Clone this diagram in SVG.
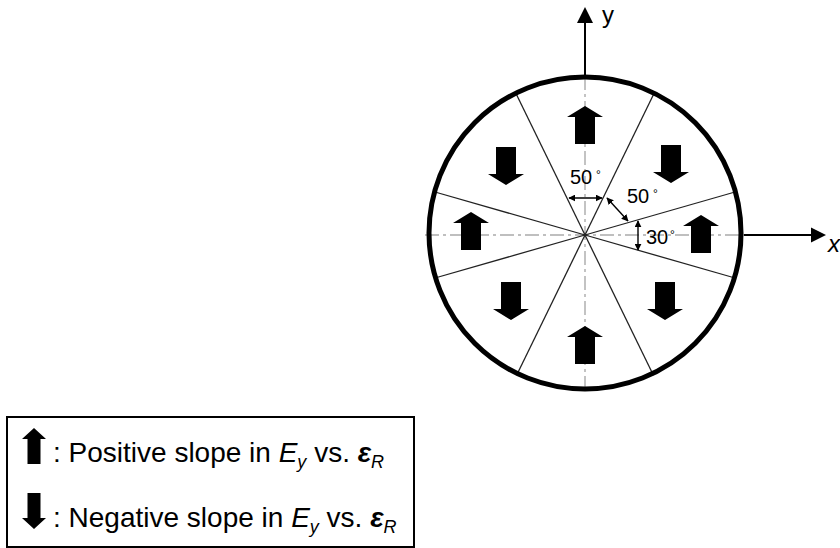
<svg xmlns="http://www.w3.org/2000/svg" xmlns:xlink="http://www.w3.org/1999/xlink" width="840" height="548" viewBox="0 0 840 548">
<style>
.t{font-family:"Liberation Sans",Arial,sans-serif;fill:#000}
.sec{stroke:#222;stroke-width:1.3;fill:none}
.ax{stroke:#aaa;stroke-width:1.4;stroke-dasharray:14 4 3 4;fill:none}
.dim{stroke:#000;stroke-width:1.4;fill:none;marker-start:url(#ah);marker-end:url(#ah)}
.blk{fill:#000}
</style>
<defs>
<marker id="ah" viewBox="0 0 10 10" refX="9" refY="5" markerWidth="7" markerHeight="7" markerUnits="userSpaceOnUse" orient="auto-start-reverse">
<path d="M0,0 L10,5 L0,10 Z" fill="#000"/>
</marker>
<path id="up" d="M0,-19 L18,-8 L10,-8 L10,19 L-10,19 L-10,-8 L-18,-8 Z"/>
<path id="lup" d="M0,-18 L12,-7 L6.5,-7 L6.5,18 L-6.5,18 L-6.5,-7 L-12,-7 Z"/>
</defs>
<g id="axes">
<line class="ax" x1="425" y1="235" x2="745" y2="235"/>
<line class="ax" x1="585" y1="76" x2="585" y2="392"/>
</g>
<g id="sectors">
<line class="sec" x1="585" y1="235" x2="735.0" y2="192.0"/>
<line class="sec" x1="585" y1="235" x2="653.4" y2="94.8"/>
<line class="sec" x1="585" y1="235" x2="516.6" y2="94.8"/>
<line class="sec" x1="585" y1="235" x2="435.0" y2="192.0"/>
<line class="sec" x1="585" y1="235" x2="435.0" y2="278.0"/>
<line class="sec" x1="585" y1="235" x2="516.6" y2="375.2"/>
<line class="sec" x1="585" y1="235" x2="653.4" y2="375.2"/>
<line class="sec" x1="585" y1="235" x2="735.0" y2="278.0"/>
</g>
<g id="circle">
<circle cx="585" cy="233" r="156" fill="none" stroke="#000" stroke-width="5"/>
</g>
<g id="y-axis">
<line x1="585" y1="76" x2="585" y2="22" stroke="#000" stroke-width="2"/>
<polygon points="585,7 577,23 593,23" fill="#000"/>
<text class="t" x="602" y="23" font-size="24">y</text>
</g>
<g id="x-axis">
<line x1="744" y1="235" x2="812" y2="235" stroke="#000" stroke-width="2"/>
<polygon points="826,235 811,227.5 811,242.5" fill="#000"/>
<text class="t" x="828" y="252" font-size="24" font-style="italic">x</text>
</g>
<g id="arrows" class="blk">
<use xlink:href="#up" href="#up" transform="translate(585,125)"/>
<use xlink:href="#up" href="#up" transform="translate(506,166) rotate(180)"/>
<use xlink:href="#up" href="#up" transform="translate(671,164) rotate(180)"/>
<use xlink:href="#up" href="#up" transform="translate(471,231)"/>
<use xlink:href="#up" href="#up" transform="translate(701,234)"/>
<use xlink:href="#up" href="#up" transform="translate(511,301) rotate(180)"/>
<use xlink:href="#up" href="#up" transform="translate(665,301) rotate(180)"/>
<use xlink:href="#up" href="#up" transform="translate(585,345)"/>
</g>
<g id="dimensions">
<line class="dim" x1="569" y1="198" x2="602" y2="198"/>
<line class="dim" x1="607" y1="198" x2="628" y2="221"/>
<line class="dim" x1="638" y1="221" x2="638" y2="250"/>
<text class="t" x="570" y="184" font-size="20">50</text>
<text class="t" x="596" y="179" font-size="12">°</text>
<text class="t" x="627" y="203" font-size="20">50</text>
<text class="t" x="653" y="198" font-size="12">°</text>
<text class="t" x="646" y="244" font-size="20">30</text>
<text class="t" x="670" y="239" font-size="12">°</text>
</g>
<g id="legend">
<rect x="7" y="417" width="407" height="130" fill="#fff" stroke="#000" stroke-width="2"/>
<use xlink:href="#lup" href="#lup" transform="translate(34,446)"/>
<use xlink:href="#lup" href="#lup" transform="translate(34,511) rotate(180)"/>
<text class="t" x="53" y="462" font-size="28">: Positive slope in <tspan font-style="italic">E</tspan><tspan font-size="18" font-style="italic" dy="6">y</tspan><tspan dy="-6"> vs. </tspan><tspan font-style="italic" font-weight="bold">ε</tspan><tspan font-size="18" font-style="italic" dy="6">R</tspan></text>
<text class="t" x="53" y="527" font-size="28">: Negative slope in <tspan font-style="italic">E</tspan><tspan font-size="18" font-style="italic" dy="6">y</tspan><tspan dy="-6"> vs. </tspan><tspan font-style="italic" font-weight="bold">ε</tspan><tspan font-size="18" font-style="italic" dy="6">R</tspan></text>
</g>
</svg>
